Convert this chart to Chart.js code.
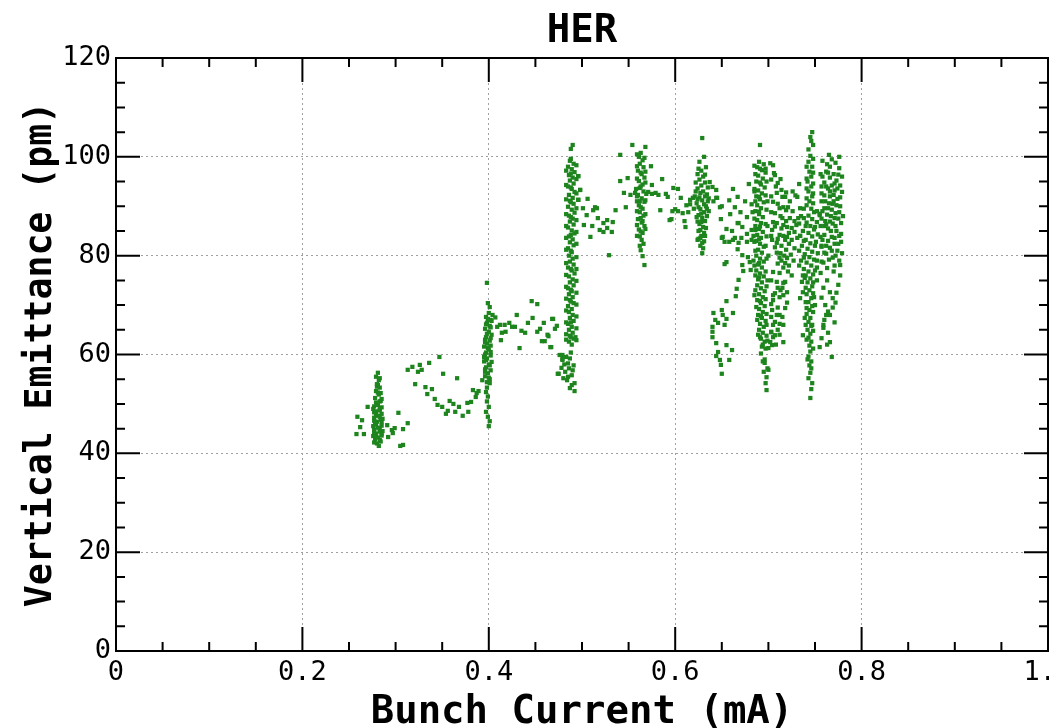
<!DOCTYPE html>
<html>
<head>
<meta charset="utf-8">
<title>HER</title>
<script src="https://cdn.jsdelivr.net/npm/chart.js@4.4.1/dist/chart.umd.min.js"></script>
<style>
  html, body { margin: 0; padding: 0; background: #fff; }
  #chart { display: block; }
</style>
</head>
<body>
<canvas id="chart" width="1049" height="728"></canvas>
<script>
// tick labels
const xTicks = [0, 0.2, 0.4, 0.6, 0.8, 1];
const yTicks = [0, 20, 40, 60, 80, 100, 120];
const xMinor = [0.05, 0.1, 0.15, 0.25, 0.3, 0.35, 0.45, 0.5, 0.55, 0.65, 0.7, 0.75, 0.85, 0.9, 0.95];
const yMinor = [5, 10, 15, 25, 30, 35, 45, 50, 55, 65, 70, 75, 85, 90, 95, 105, 110, 115];

// points, [bunch current mA, emittance pm]
const col028 = [
  [0.281,56.3],[0.279,55.5],[0.282,54.8],[0.280,54.0],[0.283,53.3],[0.279,52.6],[0.282,51.9],[0.278,51.2],
  [0.284,50.6],[0.280,50.0],[0.277,49.5],[0.283,49.0],[0.279,48.5],[0.285,48.0],[0.281,47.6],[0.277,47.2],
  [0.284,46.8],[0.280,46.4],[0.278,46.0],[0.285,45.6],[0.281,45.2],[0.277,44.8],[0.283,44.4],[0.279,44.0],
  [0.285,43.6],[0.281,43.2],[0.278,42.8],[0.284,42.4],[0.280,42.0],[0.282,41.5],[0.276,45.5],[0.286,47.0],
  [0.276,49.0],[0.286,44.5],[0.283,50.5],[0.276,43.5],[0.284,52.2],[0.281,53.8],
  [0.277,42.2],[0.283,42.7],[0.279,43.4],[0.285,44.0],[0.277,44.3],[0.283,45.0],[0.279,45.8],[0.285,46.3],
  [0.277,46.6],[0.283,47.4],[0.279,47.9],[0.285,49.3],[0.277,48.3],[0.283,48.7],[0.281,49.8],[0.279,50.3],
  [0.285,51.0],[0.281,52.3],[0.283,55.2],[0.280,53.5],
  [0.259,47.4],[0.262,45.3],[0.258,43.9],[0.266,43.9],[0.264,46.7],[0.270,49.4],[0.291,45.7],[0.296,44.7],
  [0.299,45.1],[0.303,48.2],[0.305,41.5],[0.308,44.9],[0.313,46.1],[0.292,43.3],[0.297,44.1],[0.308,41.7]
];
const arc035 = [
  [0.313,56.9],[0.318,57.5],[0.324,56.5],[0.328,56.9],[0.336,58.3],[0.326,57.9],[0.347,59.5],[0.351,56.1],
  [0.366,55.2],[0.321,54.0],[0.332,53.4],[0.339,53.0],[0.334,52.0],[0.342,51.0],[0.350,49.4],[0.354,48.0],
  [0.358,50.6],[0.362,50.0],[0.364,48.4],[0.368,49.4],[0.372,47.6],[0.378,48.4],[0.377,50.2],[0.381,50.4],
  [0.383,52.8],[0.387,52.2],[0.386,51.4],[0.389,52.6],[0.356,48.6],[0.345,49.8]
];
const col040 = [
  [0.398,74.5],[0.399,70.4],[0.401,69.6],[0.400,68.4],[0.397,67.6],[0.402,67.0],[0.398,66.4],[0.401,65.8],
  [0.396,65.2],[0.400,64.6],[0.403,64.0],[0.397,63.5],[0.401,62.8],[0.398,62.2],[0.395,61.6],[0.400,61.0],
  [0.397,60.4],[0.402,59.8],[0.398,59.2],[0.395,58.6],[0.400,58.0],[0.397,57.4],[0.402,56.8],[0.399,56.2],
  [0.396,55.6],[0.401,55.0],[0.393,54.8],[0.398,54.4],[0.397,52.4],[0.399,51.5],[0.398,50.5],[0.400,49.4],
  [0.397,48.4],[0.399,47.4],[0.401,46.5],[0.400,45.5],[0.396,60.0],[0.402,61.8],[0.396,63.0],[0.403,66.8],
  [0.396,57.0],[0.403,58.5],[0.404,68.0],[0.407,67.5],
  [0.396,56.5],[0.401,57.8],[0.397,58.9],[0.402,60.5],[0.399,61.3],[0.396,62.5],[0.402,63.3],[0.398,64.2],
  [0.402,65.5],[0.397,66.1],[0.399,67.2],[0.395,59.5],[0.401,54.2],[0.398,53.3],[0.400,55.3]
];
const step045 = [
  [0.409,65.6],[0.412,66.0],[0.414,64.4],[0.413,62.9],[0.418,64.6],[0.417,66.0],[0.422,66.4],[0.425,65.6],
  [0.428,65.6],[0.430,68.0],[0.433,61.3],[0.435,64.8],[0.439,64.4],[0.442,66.4],[0.447,67.4],[0.446,70.8],
  [0.452,70.2],[0.452,64.6],[0.455,65.2],[0.457,62.7],[0.460,62.7],[0.459,66.4],[0.464,63.7],[0.469,67.2],
  [0.471,65.2],[0.473,65.8],[0.467,61.5],[0.479,59.9],[0.479,59.1],[0.475,56.1],[0.468,67.2],[0.463,64.0],
  [0.466,61.5]
];
const col049 = [
  [0.490,102.4],[0.488,101.6],[0.487,99.2],[0.491,98.6],[0.485,98.0],[0.489,97.5],[0.492,96.9],[0.486,96.3],
  [0.490,95.8],[0.496,96.1],[0.487,95.2],[0.491,94.6],[0.485,94.0],[0.489,93.5],[0.498,93.3],[0.492,92.9],
  [0.486,92.3],[0.490,91.7],[0.496,91.3],[0.487,91.1],[0.491,90.5],[0.485,89.9],[0.489,89.3],[0.492,88.7],
  [0.486,88.1],[0.490,87.5],[0.487,86.9],[0.491,86.3],[0.485,85.7],[0.489,85.1],[0.492,84.5],[0.486,83.9],
  [0.490,83.3],[0.487,82.7],[0.491,82.1],[0.485,81.5],[0.489,80.7],[0.486,80.0],[0.490,79.4],[0.487,78.8],
  [0.491,78.2],[0.485,77.6],[0.489,77.0],[0.492,76.4],[0.486,75.8],[0.490,75.2],[0.487,74.6],[0.491,74.0],
  [0.485,73.4],[0.489,72.8],[0.486,72.2],[0.490,71.6],[0.487,71.0],[0.491,70.4],[0.485,69.8],[0.489,69.2],
  [0.486,68.6],[0.490,68.0],[0.487,67.4],[0.491,66.8],[0.485,66.2],[0.489,65.6],[0.486,65.0],[0.490,64.4],
  [0.487,63.8],[0.491,63.2],[0.486,62.6],[0.489,62.0],[0.493,63.5],[0.483,63.0],
  [0.494,98.3],[0.483,97.2],[0.494,95.5],[0.483,94.3],[0.494,92.6],[0.483,91.4],[0.494,89.6],[0.483,88.4],
  [0.494,87.2],[0.483,86.0],[0.494,84.8],[0.483,83.6],[0.494,82.4],[0.483,81.2],[0.494,79.7],[0.483,78.5],
  [0.494,77.3],[0.483,76.1],[0.494,74.9],[0.483,73.7],[0.494,72.5],[0.483,71.3],[0.494,70.1],[0.483,68.9],
  [0.494,67.7],[0.483,66.5],[0.494,65.3],[0.483,64.1],[0.494,62.9],[0.488,99.6],[0.488,96.6],[0.488,93.8],
  [0.488,90.8],[0.488,87.8],[0.488,84.2],[0.488,81.0],[0.488,77.3],[0.488,73.1],[0.488,70.7],[0.488,66.5],
  [0.488,63.5],
  [0.476,59.9],[0.479,58.9],[0.483,59.5],[0.488,60.4],[0.485,58.2],[0.474,56.1],[0.482,56.5],[0.489,55.8],
  [0.486,57.2],[0.492,54.2],[0.487,53.2],[0.492,52.6],[0.490,56.8],[0.484,54.8],[0.481,58.0],[0.487,59.2],
  [0.478,57.3],[0.491,57.8],[0.485,55.5],[0.480,55.2],[0.489,53.8]
];
const gap052 = [
  [0.496,96.1],[0.498,93.3],[0.496,91.3],[0.506,91.5],[0.501,89.6],[0.505,88.2],[0.514,89.8],[0.516,89.6],
  [0.512,89.2],[0.517,87.6],[0.511,86.0],[0.502,86.2],[0.523,86.6],[0.527,87.2],[0.533,86.8],[0.536,89.2],
  [0.519,85.2],[0.523,84.8],[0.532,84.8],[0.527,85.6],[0.509,83.8],[0.529,80.1]
];
const col056 = [
  [0.554,102.4],[0.568,102.0],[0.563,100.8],[0.561,100.0],[0.565,99.3],[0.562,98.6],[0.566,97.9],[0.560,97.2],
  [0.564,96.5],[0.567,95.8],[0.561,95.1],[0.565,94.4],[0.562,93.7],[0.566,93.0],[0.560,92.3],[0.564,91.6],
  [0.567,90.9],[0.561,90.2],[0.565,89.5],[0.562,88.8],[0.566,88.1],[0.560,87.4],[0.564,86.7],[0.567,86.0],
  [0.561,85.3],[0.565,84.6],[0.562,83.9],[0.564,83.2],[0.563,81.1],[0.565,79.9],[0.567,78.1],[0.559,91.0],
  [0.569,92.5],[0.558,93.5],[0.557,92.7],[0.571,92.9],[0.575,92.5],[0.579,92.7],[0.582,92.3],
  [0.559,100.5],[0.567,99.8],[0.559,98.1],[0.568,97.0],[0.559,95.6],[0.568,94.8],[0.563,94.0],[0.559,92.0],
  [0.568,91.2],[0.563,89.8],[0.559,89.0],[0.568,88.4],[0.563,87.6],[0.559,86.2],[0.568,85.4],[0.563,84.9],
  [0.559,84.0],[0.566,82.4],[0.562,82.0],[0.563,96.8],[0.562,91.0],[0.565,87.0],
  [0.574,98.1],[0.575,94.3],[0.586,95.5],[0.590,92.5],[0.592,91.9],[0.584,89.2],[0.598,93.7],[0.597,89.0],
  [0.596,87.4],[0.541,100.4],[0.541,95.1],[0.549,95.7],[0.545,92.7],[0.552,92.3],[0.547,89.8]
];
const cloud060 = [
  [0.603,93.5],[0.606,91.7],[0.600,89.4],[0.594,87.2],[0.611,85.8],[0.603,89.0],[0.608,88.6],[0.614,88.8],
  [0.616,90.4],[0.619,91.7],[0.612,90.2],[0.616,91.3],[0.610,87.0]
];
const col063 = [
  [0.629,103.8],[0.631,100.0],[0.633,97.9],[0.624,96.5],[0.628,97.2],[0.630,96.0],[0.626,95.4],[0.632,94.8],
  [0.628,94.2],[0.624,93.6],[0.630,93.0],[0.634,92.4],[0.626,91.8],[0.629,91.2],[0.623,90.6],[0.633,90.0],
  [0.627,89.4],[0.631,88.8],[0.625,88.2],[0.629,87.6],[0.632,87.0],[0.626,86.4],[0.630,85.8],[0.627,85.2],
  [0.631,84.6],[0.628,84.0],[0.625,83.4],[0.629,82.6],[0.630,81.5],[0.629,80.5],[0.624,83.2],[0.635,91.0],
  [0.621,92.0],[0.636,89.0],[0.620,89.5],[0.637,94.9],[0.640,93.9],[0.644,93.3],[0.645,91.7],[0.641,91.0],
  [0.625,97.6],[0.632,96.4],[0.622,94.8],[0.635,93.8],[0.622,93.0],[0.627,92.7],[0.632,92.0],[0.624,91.4],
  [0.636,91.6],[0.631,90.4],[0.625,89.8],[0.634,89.5],[0.628,88.5],[0.623,87.8],[0.634,88.0],[0.628,86.8],
  [0.624,86.9],[0.633,85.6],[0.625,85.0],[0.632,84.0],[0.627,83.6],[0.631,82.9],[0.627,82.0],[0.626,99.0]
];
const cloud066 = [
  [0.648,89.8],[0.662,93.5],[0.667,91.9],[0.664,89.8],[0.659,88.4],[0.649,87.4],[0.655,85.4],[0.661,85.0],
  [0.651,83.8],[0.653,82.8],[0.658,82.8],[0.664,83.6],[0.667,86.6],[0.672,85.8],[0.671,83.6],[0.677,87.8],
  [0.667,81.3],[0.672,80.1],[0.655,78.7],[0.653,78.3],[0.673,76.9],[0.644,91.7],[0.650,90.0],[0.682,90.4],
  [0.668,86.6],[0.682,85.2],[0.677,84.4],[0.650,83.6],[0.662,83.2],[0.668,82.6],[0.677,82.8],[0.682,83.2],
  [0.678,79.7],[0.672,78.1],[0.668,75.1],[0.666,73.3],[0.665,71.8],[0.655,70.8],[0.680,78.7],[0.681,77.1],
  [0.670,88.8],[0.675,91.0],[0.658,91.2],[0.685,93.0],[0.679,94.5]
];
const low065 = [
  [0.641,68.4],[0.650,69.0],[0.651,68.0],[0.662,68.4],[0.655,67.2],[0.646,66.4],[0.640,65.6],[0.653,66.0],
  [0.640,64.6],[0.640,63.5],[0.644,62.3],[0.655,61.9],[0.661,60.9],[0.646,60.5],[0.644,59.7],[0.648,58.9],
  [0.658,58.9],[0.649,57.9],[0.650,56.1],[0.643,67.0]
];
const col069 = [
  [0.691,102.4],[0.690,99.0],[0.695,98.5],[0.688,97.9],[0.693,97.3],[0.697,96.8],[0.689,96.2],[0.694,95.6],
  [0.687,95.0],[0.692,94.4],[0.696,93.8],[0.689,93.2],[0.693,92.6],[0.687,92.0],[0.691,91.4],[0.695,90.8],
  [0.688,90.2],[0.692,89.6],[0.686,89.0],[0.690,88.4],[0.694,87.8],[0.688,87.2],[0.692,86.6],[0.686,86.0],
  [0.690,85.4],[0.694,84.8],[0.688,84.2],[0.692,83.6],[0.687,83.0],[0.691,82.4],[0.695,81.8],[0.689,81.2],
  [0.693,80.6],[0.687,80.0],[0.691,79.4],[0.695,78.8],[0.689,78.2],[0.693,77.6],[0.687,77.0],[0.691,76.4],
  [0.695,75.8],[0.689,75.2],[0.693,74.6],[0.688,74.0],[0.692,73.4],[0.696,72.8],[0.690,72.2],[0.694,71.6],
  [0.688,71.0],[0.692,70.4],[0.696,69.8],[0.690,69.2],[0.694,68.6],[0.689,68.0],[0.693,67.4],[0.697,66.8],
  [0.691,66.2],[0.695,65.6],[0.690,65.0],[0.694,64.4],[0.698,63.8],[0.692,63.2],[0.696,62.6],[0.694,62.0],
  [0.697,61.2],[0.698,55.4],[0.697,54.2],[0.698,52.8],[0.699,57.2],[0.696,59.0],[0.702,62.5],[0.700,61.3],
  [0.696,58.3],[0.700,56.9],[0.703,64.5],[0.684,84.0],[0.699,86.0],[0.684,79.0],[0.700,80.0],[0.683,88.8],
  [0.699,91.0],[0.685,72.0],[0.699,75.0],
  [0.685,98.2],[0.697,97.6],[0.686,96.5],[0.698,95.0],[0.685,93.5],[0.697,92.2],[0.686,91.0],[0.698,89.3],
  [0.685,87.5],[0.697,86.4],[0.686,85.2],[0.698,83.9],[0.685,82.8],[0.697,82.0],[0.686,81.0],[0.698,79.4],
  [0.685,78.0],[0.697,76.8],[0.686,76.0],[0.698,73.8],[0.686,73.0],[0.697,71.2],[0.687,69.6],[0.698,68.2],
  [0.688,67.0],[0.698,66.0],[0.689,64.0],[0.699,62.8],[0.691,63.5],[0.693,61.6],[0.692,60.2],[0.694,58.6],
  [0.695,56.5],[0.691,97.6],[0.691,94.8],[0.690,91.9],[0.690,88.9],[0.691,85.9],[0.690,83.3],[0.690,78.5],
  [0.690,75.6],[0.691,70.8],[0.692,67.8]
];
const cloud071 = [
  [0.702,98.7],[0.706,96.7],[0.710,94.7],[0.709,92.7],[0.715,91.9],[0.705,90.9],[0.712,89.6],[0.719,89.2],
  [0.707,88.6],[0.715,87.6],[0.709,86.6],[0.720,85.8],[0.704,85.2],[0.712,84.2],[0.718,83.2],[0.709,82.6],
  [0.705,76.7],[0.712,76.5],[0.716,74.5],[0.710,73.5],[0.707,72.4],[0.712,71.6],[0.705,71.0],[0.704,69.0],
  [0.712,68.0],[0.707,66.6],[0.710,65.0],[0.705,63.5],[0.705,98.3],[0.707,96.3],[0.718,91.9],[0.721,89.8],
  [0.723,87.6],[0.705,86.8],[0.716,86.2],[0.725,85.6],[0.720,83.8],[0.704,83.2],[0.731,91.9],[0.734,89.6],
  [0.732,87.6],[0.728,84.8],[0.713,80.5],[0.717,80.0],[0.720,79.5],[0.714,79.0],[0.718,78.5],[0.722,78.0],
  [0.716,77.6],[0.712,79.6],[0.724,80.2],[0.719,81.2],[0.709,74.7],[0.718,74.7],[0.715,73.5],[0.705,72.0],
  [0.716,72.0],[0.718,69.4],[0.709,68.0],[0.715,67.6],[0.705,66.0],[0.716,66.0],[0.707,63.9],[0.716,62.5],
  [0.704,61.9],[0.726,93.0],[0.713,95.5],[0.728,81.5],[0.725,76.0],
  [0.703,95.4],[0.708,94.0],[0.714,93.3],[0.719,92.8],[0.723,91.0],[0.703,92.0],[0.710,90.5],[0.716,89.8],
  [0.726,89.0],[0.703,88.8],[0.713,88.0],[0.719,87.0],[0.728,87.0],[0.707,85.9],[0.714,85.5],[0.722,84.6],
  [0.730,86.2],[0.703,84.0],[0.710,83.4],[0.716,84.0],[0.725,83.2],[0.707,81.7],[0.714,82.0],[0.722,82.4],
  [0.731,83.6],[0.709,80.6],[0.727,79.0],[0.710,78.4],[0.721,76.8],[0.703,75.0],[0.713,73.0],[0.720,72.6],
  [0.703,70.2],[0.710,69.5],[0.720,70.5],[0.703,67.6],[0.712,66.2],[0.703,64.6],[0.712,64.0],[0.708,62.0],
  [0.733,94.5],[0.729,92.2],[0.733,86.5],[0.734,84.0]
];
const col074 = [
  [0.747,105.0],[0.745,104.0],[0.748,102.4],[0.745,100.2],[0.743,99.0],[0.747,98.0],[0.744,97.0],[0.746,96.0],
  [0.742,95.0],[0.746,94.0],[0.743,93.0],[0.747,92.0],[0.744,91.0],[0.741,90.2],[0.746,89.5],[0.749,88.8],
  [0.743,88.1],[0.738,87.6],[0.747,87.4],[0.752,86.8],[0.741,86.7],[0.745,86.0],[0.749,85.3],[0.737,85.0],
  [0.743,84.6],[0.753,84.3],[0.747,83.9],[0.740,83.2],[0.745,82.5],[0.750,82.0],[0.736,82.0],[0.742,81.4],
  [0.747,80.8],[0.753,80.5],[0.739,80.3],[0.744,79.7],[0.749,79.2],[0.735,79.0],[0.741,78.6],[0.746,78.0],
  [0.752,77.6],[0.738,77.3],[0.743,76.8],[0.748,76.2],[0.745,75.4],[0.742,74.6],[0.747,73.8],[0.744,73.0],
  [0.741,72.2],[0.746,71.4],[0.743,70.6],[0.747,69.8],[0.744,69.0],[0.741,68.2],[0.745,67.4],[0.743,66.6],
  [0.746,65.8],[0.742,65.0],[0.745,64.2],[0.743,63.4],[0.746,62.6],[0.744,61.8],[0.745,60.6],[0.743,59.6],
  [0.746,58.6],[0.744,57.8],[0.745,56.3],[0.747,54.2],[0.745,51.2],[0.736,74.7],[0.737,72.6],[0.734,71.4],
  [0.748,72.4],[0.750,70.0],[0.741,69.4],[0.739,67.4],[0.747,66.0],[0.737,63.9],
  [0.746,103.2],[0.743,101.5],[0.748,99.6],[0.741,98.0],[0.748,96.8],[0.741,95.6],[0.748,94.6],[0.741,93.6],
  [0.748,92.6],[0.741,91.6],[0.748,90.6],[0.738,89.5],[0.752,89.0],[0.735,88.0],[0.755,88.2],[0.740,86.0],
  [0.750,85.8],[0.734,84.0],[0.756,83.8],[0.738,83.0],[0.751,82.8],[0.733,81.0],[0.757,81.8],[0.738,79.6],
  [0.752,79.0],[0.733,78.0],[0.757,78.8],[0.740,76.0],[0.750,77.0],[0.737,76.0],[0.752,75.0],[0.739,75.5],
  [0.748,74.6],[0.740,73.5],[0.749,71.6],[0.740,70.6],[0.748,68.6],[0.740,66.0],[0.748,64.8],[0.741,63.0],
  [0.748,61.2],[0.742,59.0],[0.746,57.2],[0.743,55.2],[0.746,53.0]
];
const col077 = [
  [0.765,100.4],[0.768,99.5],[0.776,97.7],[0.762,97.0],[0.770,96.5],[0.766,95.8],[0.773,95.2],[0.760,94.8],
  [0.768,94.2],[0.764,93.6],[0.771,93.2],[0.779,92.9],[0.757,92.6],[0.766,92.0],[0.774,91.5],[0.761,91.0],
  [0.769,90.5],[0.777,90.0],[0.764,89.6],[0.758,89.0],[0.772,88.6],[0.767,88.0],[0.775,87.5],[0.761,87.0],
  [0.769,86.5],[0.756,86.0],[0.764,85.5],[0.773,85.0],[0.778,84.4],[0.760,84.2],[0.768,83.8],[0.764,83.0],
  [0.771,82.4],[0.757,82.0],[0.766,81.6],[0.774,81.0],[0.762,80.4],[0.769,79.6],[0.776,79.0],[0.759,78.6],
  [0.776,100.0],[0.779,96.0],[0.756,96.5],[0.780,88.0],[0.755,88.5],[0.763,98.5],[0.770,91.0],[0.762,86.3],
  [0.758,99.2],[0.772,98.8],[0.766,98.0],[0.758,96.0],[0.775,96.4],[0.764,96.8],[0.771,94.6],[0.762,94.0],
  [0.777,94.2],[0.757,94.0],[0.766,93.0],[0.774,93.6],[0.760,92.2],[0.770,92.3],[0.777,91.8],[0.757,91.0],
  [0.765,90.6],[0.773,90.2],[0.760,89.6],[0.768,89.3],[0.776,88.8],[0.763,88.3],[0.771,87.6],[0.757,87.5],
  [0.766,86.9],[0.778,86.6],[0.760,86.0],[0.772,86.0],[0.767,85.0],[0.776,84.0],[0.758,83.2],[0.771,83.6],
  [0.762,82.0],[0.775,82.4],[0.768,81.0],[0.760,80.6],[0.772,80.0],[0.765,79.2],[0.778,82.8],[0.771,78.0],
  [0.759,73.5],[0.766,72.6],[0.775,74.1],[0.769,71.4],[0.761,70.0],[0.764,68.7],[0.759,66.0],[0.764,64.4],
  [0.757,63.3],[0.766,62.5],[0.755,61.5],[0.768,59.5],[0.772,70.5],[0.777,76.0],[0.756,76.5],[0.770,76.8],
  [0.763,77.5],[0.760,67.0],[0.779,80.5],[0.777,78.1],[0.766,68.0],[0.759,65.4],[0.763,75.0],[0.773,72.5],
  [0.757,71.5],[0.769,69.5],[0.762,68.0],[0.771,66.5],[0.763,62.0]
];

const allPoints = [].concat(col028, arc035, col040, step045, col049, gap052, col056, cloud060,
  col063, cloud066, low065, col069, cloud071, col074, col077).map(p => ({ x: p[0], y: p[1] }));

const FONT = "'DejaVu Sans Mono', 'Liberation Mono', monospace";

// frame and inward ticks on all four sides
const framePlugin = {
  id: "frame",
  afterDraw(chart) {
    const ctx = chart.ctx;
    const a = chart.chartArea;
    const xs = chart.scales.x, ys = chart.scales.y;
    ctx.save();
    ctx.strokeStyle = "#000";
    ctx.lineWidth = 2;
    ctx.strokeRect(a.left, a.top, a.right - a.left, a.bottom - a.top);
    ctx.beginPath();
    const tickX = (v, len) => {
      const px = xs.getPixelForValue(v);
      ctx.moveTo(px, a.bottom); ctx.lineTo(px, a.bottom - len);
      ctx.moveTo(px, a.top); ctx.lineTo(px, a.top + len);
    };
    const tickY = (v, len) => {
      const py = ys.getPixelForValue(v);
      ctx.moveTo(a.left, py); ctx.lineTo(a.left + len, py);
      ctx.moveTo(a.right, py); ctx.lineTo(a.right - len, py);
    };
    xTicks.forEach(v => tickX(v, 24));
    xMinor.forEach(v => tickX(v, 9));
    yTicks.forEach(v => tickY(v, 24));
    yMinor.forEach(v => tickY(v, 9));
    ctx.stroke();
    ctx.restore();
  }
};

new Chart(document.getElementById("chart"), {
  type: "scatter",
  data: {
    datasets: [{
      label: "HER",
      data: allPoints,
      backgroundColor: "#1e851e",
      pointStyle: "rect",
      pointRadius: 3,
      borderWidth: 0
    }]
  },
  options: {
    responsive: false,
    animation: false,
    devicePixelRatio: 1,
    layout: { autoPadding: false, padding: { left: 0, right: 1, top: 0, bottom: 0 } },
    plugins: {
      legend: { display: false },
      tooltip: { enabled: false },
      title: {
        display: true,
        text: "HER",
        fullSize: false,
        color: "#000",
        font: { family: FONT, size: 39, weight: "bold", lineHeight: 1.2 },
        padding: { top: 8, bottom: 3.2 }
      }
    },
    scales: {
      x: {
        type: "linear",
        min: 0,
        max: 1,
        afterBuildTicks: s => { s.ticks = xTicks.map(v => ({ value: v })); },
        afterFit: s => { s.height = 77; s.paddingLeft = 0; s.paddingRight = 0; },
        ticks: {
          color: "#000",
          font: { family: FONT, size: 27 },
          padding: 6,
          maxRotation: 0,
          autoSkip: false
        },
        grid: { color: "#a0a0a0", lineWidth: 1, drawTicks: false },
        border: { display: false, dash: [2, 3] },
        title: {
          display: true,
          text: "Bunch Current (mA)",
          color: "#000",
          font: { family: FONT, size: 39, weight: "bold", lineHeight: 0.8 },
          padding: { top: 0, bottom: 0 }
        }
      },
      y: {
        type: "linear",
        min: 0,
        max: 120,
        afterBuildTicks: s => { s.ticks = yTicks.map(v => ({ value: v })); },
        afterFit: s => { s.width = 116; },
        ticks: {
          color: "#000",
          font: { family: FONT, size: 27 },
          padding: 5,
          autoSkip: false
        },
        grid: { color: "#a0a0a0", lineWidth: 1, drawTicks: false },
        border: { display: false, dash: [2, 3] },
        title: {
          display: true,
          text: "Vertical Emittance (pm)",
          color: "#000",
          font: { family: FONT, size: 36.5, weight: "bold", lineHeight: 1.2 },
          padding: { top: 19.5, bottom: 0 }
        }
      }
    }
  },
  plugins: [framePlugin]
});
</script>
</body>
</html>
